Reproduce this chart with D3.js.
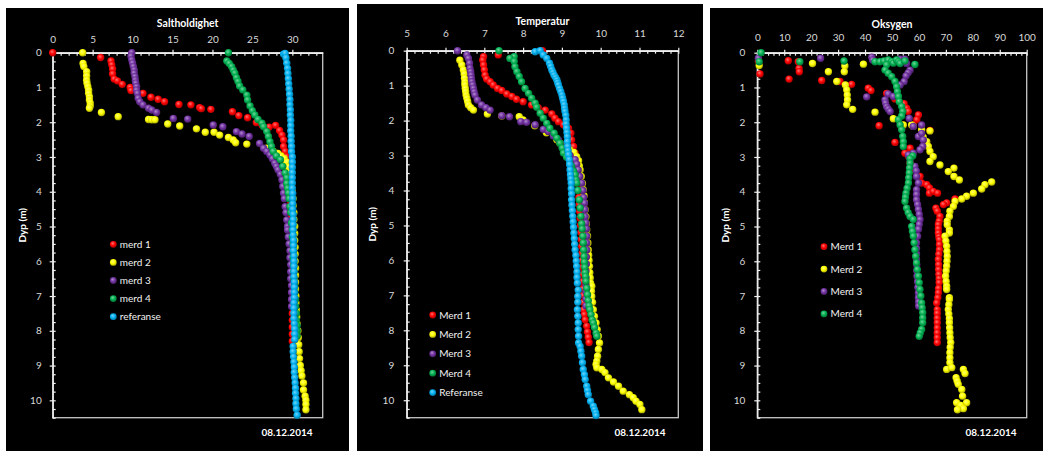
<!DOCTYPE html>
<html>
<head>
<meta charset="utf-8">
<script src="https://cdn.jsdelivr.net/npm/d3@7"></script>
<style>
  body { margin: 0; background: #fff; }
  svg { display: block; }
  text { font-family: Lato, "Open Sans", sans-serif; }
</style>
</head>
<body>
<svg id="chart" width="1043" height="451"></svg>
<script>
// ---- data (value, depth in m) ----
const dateLabel = "08.12.2014";
const depthTicks = [0, 1, 2, 3, 4, 5, 6, 7, 8, 9, 10];
const saltTicks = [0, 5, 10, 15, 20, 25, 30];
const tempTicks = [5, 6, 7, 8, 9, 10, 11, 12];
const oxyTicks = [0, 10, 20, 30, 40, 50, 60, 70, 80, 90, 100];
const saltNames = ["merd 1", "merd 2", "merd 3", "merd 4", "referanse"];
const tempNames = ["Merd 1", "Merd 2", "Merd 3", "Merd 4", "Referanse"];
const oxyNames = ["Merd 1", "Merd 2", "Merd 3", "Merd 4"];

const saltM1 = [[0,0],[6.0,0.14],[7.3,0.24],[7.4,0.35],[7.5,0.47],[7.5,0.61],[7.7,0.76],[8.1,0.81],[8.7,0.91],[9.7,1.0],[9.8,1.09],[11.3,1.17],[12.3,1.28],[13.2,1.34],[14.0,1.41],[15.8,1.49],[17.3,1.5],[18.4,1.58],[18.6,1.61],[19.8,1.63],[22.5,1.7],[23.3,1.81],[24.4,1.87],[25.5,2.01],[26.2,2.08],[27.1,2.14],[27.9,2.09],[28.4,2.24],[28.7,2.37],[28.9,2.51],[28.9,2.7],[29.1,2.84],[29.3,2.99],[29.5,3.15],[29.6,3.3],[29.7,3.5],[29.7,3.7],[29.8,3.9],[29.8,4.1],[29.8,4.3],[29.9,4.5],[29.9,4.7],[29.9,4.9],[29.9,5.1],[29.9,5.3],[29.9,5.5],[30.0,5.7],[30.0,5.9],[30.0,6.1],[30.0,6.3],[30.0,6.5],[30.0,6.7],[30.0,6.9],[30.0,7.1],[30.0,7.3],[30.0,7.5],[30.0,7.7],[30.0,7.9],[30.0,8.1],[30.0,8.3]];
const saltM2 = [[3.75,0],[3.8,0.31],[3.9,0.4],[4.25,0.55],[4.25,0.67],[4.25,0.79],[4.3,0.88],[4.4,0.98],[4.5,1.08],[4.5,1.17],[4.6,1.27],[4.6,1.36],[4.7,1.45],[4.7,1.53],[4.6,1.6],[6.1,1.72],[8.2,1.84],[12.0,1.92],[12.4,1.93],[12.8,1.93],[14.4,2.05],[15.9,2.11],[18.0,2.19],[19.1,2.29],[20.2,2.29],[20.9,2.37],[22.0,2.44],[22.6,2.51],[22.9,2.59],[24.3,2.63],[26.8,2.75],[27.6,2.83],[28.2,2.9],[28.6,2.97],[29.0,3.05],[29.3,3.15],[29.5,3.3],[29.7,3.45],[29.8,3.6],[29.9,3.8],[30.0,4.0],[30.1,4.2],[30.1,4.4],[30.2,4.6],[30.2,4.8],[30.3,5.0],[30.3,5.2],[30.3,5.4],[30.35,5.6],[30.35,5.8],[30.35,6.0],[30.4,6.2],[30.4,6.4],[30.4,6.6],[30.4,6.8],[30.45,7.0],[30.45,7.2],[30.5,7.4],[30.55,7.6],[30.6,7.8],[30.7,8.0],[30.75,8.2],[30.8,8.4],[30.85,8.6],[30.9,8.8],[31.0,9.0],[31.1,9.15],[31.2,9.3],[31.4,9.5],[31.4,9.7],[31.6,9.88],[31.7,10.0],[31.7,10.12],[31.7,10.27]];
const saltM3 = [[9.9,0],[9.8,0.1],[9.9,0.21],[10.0,0.3],[10.1,0.4],[10.2,0.5],[10.2,0.59],[10.3,0.69],[10.35,0.79],[10.4,0.88],[10.5,0.98],[10.5,1.08],[10.6,1.17],[10.7,1.31],[10.9,1.41],[11.3,1.5],[12.0,1.6],[12.4,1.65],[13.0,1.72],[15.1,1.89],[16.9,1.91],[20.1,2.08],[21.3,2.13],[23.0,2.27],[23.7,2.34],[24.6,2.41],[25.9,2.61],[26.4,2.75],[26.8,2.84],[27.2,2.94],[27.5,3.05],[27.8,3.18],[28.0,3.27],[28.2,3.37],[28.5,3.5],[28.7,3.66],[28.8,3.85],[28.9,4.04],[29.0,4.2],[29.1,4.43],[29.2,4.6],[29.3,4.81],[29.4,5.0],[29.4,5.1],[29.5,5.3],[29.6,5.5],[29.7,5.7],[29.7,5.9],[29.8,6.1],[29.8,6.3],[29.8,6.5],[29.9,6.7],[29.9,6.9],[29.9,7.1],[29.9,7.3]];
const saltM4 = [[22.0,0],[21.8,0.24],[22.1,0.31],[22.4,0.4],[22.6,0.5],[22.8,0.59],[23.0,0.72],[23.2,0.83],[23.4,0.96],[23.8,1.07],[24.3,1.22],[24.4,1.36],[24.7,1.53],[25.0,1.67],[25.3,1.79],[25.7,1.92],[26.2,2.03],[26.4,2.13],[26.8,2.27],[27.0,2.41],[27.2,2.56],[27.4,2.7],[27.6,2.84],[28.0,2.97],[28.5,3.08],[28.8,3.27],[29.1,3.46],[29.3,3.6],[29.3,3.76],[29.4,3.9],[29.5,4.04],[29.6,4.2],[29.7,4.43],[29.8,4.6],[29.9,4.9],[30.0,5.1],[30.0,5.3],[30.1,5.5],[30.1,5.7],[30.1,5.9],[30.2,6.1],[30.2,6.3],[30.2,6.5],[30.3,6.7],[30.3,6.9],[30.4,7.1],[30.4,7.3],[30.5,7.5],[30.5,7.7],[30.6,7.85],[30.6,8.0],[30.6,8.15]];
const saltRef = [[28.9,0.04],[29.1,0.02],[29.2,0.15],[29.3,0.3],[29.4,0.45],[29.45,0.6],[29.5,0.75],[29.55,0.9],[29.6,1.05],[29.65,1.2],[29.7,1.35],[29.7,1.5],[29.75,1.65],[29.75,1.8],[29.8,1.95],[29.8,2.1],[29.8,2.25],[29.85,2.4],[29.85,2.55],[29.9,2.7],[29.9,2.85],[30.0,3.0],[30.0,3.15],[30.0,3.3],[30.0,3.45],[30.0,3.6],[30.0,3.75],[30.0,3.9],[30.05,4.05],[30.05,4.2],[30.05,4.35],[30.05,4.5],[30.1,4.65],[30.1,4.8],[30.1,4.95],[30.1,5.1],[30.1,5.25],[30.15,5.4],[30.15,5.55],[30.15,5.7],[30.2,5.85],[30.2,6.0],[30.2,6.15],[30.2,6.3],[30.2,6.45],[30.25,6.6],[30.25,6.75],[30.25,6.9],[30.25,7.05],[30.2,7.2],[30.2,7.35],[30.2,7.5],[30.2,7.65],[30.25,7.8],[30.3,7.95],[30.3,8.1],[30.3,8.25],[30.1,8.45],[30.1,8.6],[30.15,8.75],[30.2,8.9],[30.25,9.05],[30.25,9.2],[30.3,9.35],[30.35,9.5],[30.4,9.65],[30.4,9.8],[30.45,9.95],[30.45,10.1],[30.5,10.25],[30.6,10.43]];

const tempM1 = [[8.5,0],[7.36,0.12],[6.98,0.17],[6.96,0.27],[6.98,0.41],[7.0,0.55],[7.02,0.7],[7.06,0.81],[7.15,0.89],[7.23,0.98],[7.34,1.08],[7.45,1.14],[7.58,1.24],[7.71,1.31],[7.83,1.39],[8.0,1.46],[8.22,1.55],[8.39,1.63],[8.57,1.7],[8.74,1.81],[8.82,1.93],[8.91,2.03],[9.04,2.12],[9.17,2.22],[9.23,2.36],[9.25,2.55],[9.3,2.74],[9.34,2.93],[9.36,3.05],[9.38,3.2],[9.4,3.35],[9.41,3.5],[9.42,3.65],[9.42,3.8],[9.43,4.0],[9.44,4.2],[9.45,4.4],[9.46,4.6],[9.47,4.8],[9.48,5.0],[9.49,5.2],[9.5,5.4],[9.51,5.6],[9.52,5.8],[9.52,6.0],[9.53,6.2],[9.54,6.4],[9.54,6.6],[9.55,6.8],[9.55,7.0],[9.55,7.2],[9.56,7.41],[9.58,7.55],[9.6,7.7],[9.64,7.88],[9.66,8.05],[9.68,8.2],[9.7,8.35]];
const tempM2 = [[6.37,0.27],[6.42,0.41],[6.46,0.55],[6.48,0.67],[6.49,0.79],[6.5,0.9],[6.5,0.98],[6.51,1.08],[6.52,1.17],[6.53,1.27],[6.55,1.36],[6.57,1.45],[6.59,1.55],[6.65,1.63],[6.72,1.7],[7.08,1.81],[7.45,1.87],[7.9,1.89],[8.0,1.98],[8.3,2.15],[8.6,2.35],[8.87,2.55],[8.95,2.65],[9.08,2.74],[9.2,2.83],[9.31,2.91],[9.38,3.03],[9.43,3.15],[9.45,3.3],[9.47,3.41],[9.5,3.6],[9.53,3.8],[9.55,3.98],[9.57,4.15],[9.58,4.35],[9.6,4.55],[9.62,4.75],[9.63,4.95],[9.64,5.12],[9.66,5.3],[9.67,5.5],[9.68,5.7],[9.69,5.85],[9.7,6.0],[9.71,6.17],[9.72,6.35],[9.73,6.5],[9.74,6.65],[9.77,6.74],[9.76,6.88],[9.77,7.03],[9.79,7.2],[9.81,7.41],[9.84,7.6],[9.88,7.79],[9.91,7.98],[9.94,8.17],[9.97,8.36],[9.94,8.55],[9.92,8.74],[9.9,8.88],[9.88,8.98],[9.9,9.07],[10.03,9.12],[10.11,9.21],[10.2,9.36],[10.33,9.48],[10.46,9.6],[10.58,9.74],[10.74,9.84],[10.84,9.93],[10.91,10.03],[11.01,10.12],[11.06,10.27]];
const tempM3 = [[6.31,0],[6.55,0.12],[6.59,0.22],[6.62,0.36],[6.63,0.5],[6.65,0.6],[6.66,0.7],[6.67,0.8],[6.68,0.89],[6.7,0.98],[6.72,1.08],[6.74,1.18],[6.76,1.27],[6.82,1.41],[6.93,1.55],[7.04,1.63],[7.15,1.7],[7.45,1.86],[7.65,1.89],[7.94,2.03],[8.09,2.05],[8.31,2.12],[8.52,2.25],[8.65,2.31],[8.78,2.44],[8.91,2.55],[9.0,2.74],[9.08,2.93],[9.21,3.0],[9.34,3.12],[9.38,3.25],[9.42,3.41],[9.46,3.6],[9.51,3.79],[9.54,4.0],[9.56,4.2],[9.58,4.36],[9.59,4.55],[9.6,4.75],[9.62,4.93],[9.63,5.1],[9.64,5.31],[9.64,5.5],[9.64,5.7],[9.63,5.9],[9.63,6.1],[9.62,6.3],[9.62,6.5],[9.62,6.7],[9.62,6.9],[9.62,7.1],[9.62,7.3]];
const tempM4 = [[7.38,0],[7.77,0.17],[7.66,0.22],[7.77,0.31],[7.79,0.46],[7.84,0.6],[7.9,0.74],[7.96,0.89],[8.05,1.08],[8.14,1.22],[8.22,1.36],[8.31,1.5],[8.35,1.62],[8.44,1.79],[8.52,1.93],[8.61,2.08],[8.69,2.22],[8.8,2.36],[8.87,2.5],[8.95,2.65],[9.01,2.79],[9.04,2.93],[9.12,3.05],[9.2,3.2],[9.25,3.31],[9.3,3.45],[9.34,3.55],[9.36,3.7],[9.38,3.79],[9.41,4.0],[9.45,4.27],[9.47,4.5],[9.49,4.74],[9.51,4.95],[9.52,5.1],[9.54,5.31],[9.55,5.5],[9.56,5.7],[9.57,5.89],[9.58,6.05],[9.59,6.2],[9.6,6.35],[9.61,6.46],[9.62,6.6],[9.64,6.8],[9.66,6.98],[9.68,7.15],[9.7,7.3],[9.72,7.41],[9.75,7.55],[9.78,7.7],[9.81,7.79],[9.84,7.92],[9.88,8.08],[9.9,8.17]];
const tempRef = [[8.31,0.03],[8.44,0],[8.52,0.12],[8.61,0.22],[8.68,0.36],[8.71,0.45],[8.74,0.55],[8.77,0.62],[8.8,0.7],[8.84,0.77],[8.87,0.84],[8.89,0.91],[8.91,0.98],[8.94,1.08],[8.97,1.17],[9.0,1.27],[9.02,1.36],[9.04,1.45],[9.06,1.55],[9.07,1.65],[9.08,1.74],[9.1,1.85],[9.11,1.98],[9.11,2.1],[9.12,2.22],[9.13,2.34],[9.14,2.46],[9.14,2.6],[9.15,2.74],[9.16,2.86],[9.17,2.98],[9.19,3.12],[9.2,3.26],[9.21,3.41],[9.22,3.55],[9.23,3.67],[9.24,3.79],[9.24,3.95],[9.25,4.1],[9.25,4.27],[9.26,4.42],[9.27,4.58],[9.28,4.74],[9.29,4.9],[9.3,5.06],[9.31,5.22],[9.32,5.38],[9.33,5.54],[9.34,5.7],[9.36,5.86],[9.37,6.02],[9.38,6.17],[9.39,6.33],[9.39,6.49],[9.4,6.65],[9.42,6.85],[9.41,7.03],[9.41,7.2],[9.4,7.41],[9.41,7.6],[9.42,7.79],[9.42,7.98],[9.43,8.17],[9.43,8.36],[9.47,8.46],[9.49,8.6],[9.51,8.74],[9.53,8.93],[9.55,9.12],[9.58,9.27],[9.6,9.41],[9.64,9.6],[9.66,9.72],[9.68,9.84],[9.74,10.03],[9.81,10.17],[9.84,10.27],[9.87,10.36],[9.88,10.44]];

const oxyM1 = [[0.4,0.24],[1.0,0.61],[11.5,0.23],[11.8,0.76],[15.2,0.26],[15.5,0.45],[15.6,0.55],[23.9,0.8],[30.7,0.83],[35.0,0.91],[41.2,1.02],[42.2,1.09],[48.0,1.17],[51.1,1.33],[54.5,1.47],[55.4,1.6],[56.0,1.69],[59.8,1.79],[59.2,1.93],[57.9,2.08],[45.2,2.1],[53.6,2.17],[64.1,2.24],[51.1,2.58],[56.7,2.75],[54.8,2.89],[56.1,2.98],[56.7,3.18],[57.9,3.37],[60.4,3.56],[61.0,3.75],[62.9,3.8],[63.9,3.89],[63.9,4.04],[65.3,3.99],[66.9,4.04],[73.4,4.21],[70.3,4.32],[69.1,4.37],[66.3,4.47],[66.8,4.56],[67.8,4.71],[67.5,4.85],[67.2,4.95],[67.2,5.07],[67.2,5.19],[67.4,5.3],[67.6,5.38],[67.6,5.52],[67.6,5.67],[67.4,5.8],[67.2,5.95],[67.3,6.1],[67.3,6.24],[67.4,6.38],[67.5,6.5],[67.5,6.62],[67.3,6.78],[67.2,6.91],[67.0,7.05],[66.6,7.2],[66.8,7.39],[66.8,7.5],[66.8,7.64],[66.8,7.77],[66.8,7.92],[66.8,8.06],[66.8,8.2],[66.8,8.34]];
const oxyM2 = [[0.7,0.37],[20.5,0.31],[26.4,0.55],[32.5,0.38],[32.3,0.55],[39.4,0.33],[29.5,0.83],[32.7,0.93],[33.2,1.07],[33.4,1.22],[33.5,1.36],[33.2,1.5],[35.4,1.63],[43.7,1.71],[50.5,1.9],[54.2,2.08],[57.3,2.08],[57.9,2.12],[61.0,2.22],[64.1,2.25],[61.6,2.43],[62.9,2.56],[63.5,2.7],[64.1,2.84],[65.3,2.99],[64.1,3.13],[67.8,3.23],[73.0,3.32],[70.9,3.42],[73.0,3.56],[75.0,3.66],[87.0,3.72],[84.5,3.8],[83.3,3.92],[80.2,4.04],[77.7,4.13],[75.9,4.21],[73.4,4.28],[72.8,4.42],[71.5,4.56],[71.3,4.71],[70.5,4.85],[70.5,4.95],[71.3,5.1],[71.3,5.19],[69.7,5.28],[70.0,5.42],[70.3,5.57],[70.4,5.72],[70.5,5.86],[70.4,6.0],[70.3,6.14],[70.1,6.28],[69.9,6.43],[70.1,6.58],[70.3,6.72],[70.3,6.81],[71.3,7.05],[71.3,7.1],[71.1,7.25],[70.9,7.39],[71.1,7.52],[71.3,7.65],[71.3,7.77],[71.4,7.92],[71.5,8.06],[71.6,8.2],[71.8,8.34],[71.6,8.48],[71.5,8.63],[71.5,8.78],[71.5,8.92],[70.3,9.11],[72.2,9.06],[76.5,9.11],[77.1,9.23],[73.8,9.35],[74.2,9.45],[74.6,9.54],[75.9,9.69],[76.2,9.88],[77.7,10.07],[74.0,10.07],[75.5,10.15],[76.5,10.24],[74.3,10.27]];
const oxyM3 = [[0.4,0.16],[23.5,0.16],[42.5,0.13],[42.8,0.21],[53.0,0.19],[54.8,0.19],[55.4,0.31],[56.7,0.5],[56.0,0.58],[55.2,0.67],[54.5,0.83],[53.0,0.93],[48.6,1.19],[50.5,1.26],[40.6,1.27],[47.4,1.36],[47.6,1.45],[48.0,1.55],[48.6,1.62],[49.3,1.69],[56.4,1.89],[57.9,2.12],[61.0,2.08],[59.8,2.41],[61.0,2.32],[61.6,2.51],[61.4,2.7],[60.4,2.79],[57.9,2.89],[56.1,2.94],[56.7,3.08],[58.5,3.27],[59.0,3.4],[59.1,3.56],[59.8,3.75],[59.1,3.94],[59.1,4.08],[59.1,4.23],[59.5,4.37],[59.8,4.51],[60.1,4.65],[60.4,4.8],[60.1,4.94],[59.8,5.08],[59.5,5.28],[59.1,5.47],[59.1,5.63],[59.1,5.79],[59.1,5.95],[59.2,6.11],[59.2,6.27],[59.3,6.43],[59.5,6.59],[59.6,6.75],[59.8,6.91],[59.8,7.05],[59.9,7.17],[59.9,7.29]];
const oxyM4 = [[1.4,0],[0.7,0.26],[15.8,0.26],[32.2,0.24],[43.7,0.26],[45.5,0.26],[47.0,0.24],[48.6,0.21],[49.9,0.26],[50.5,0.3],[51.7,0.21],[52.4,0.26],[53.0,0.31],[54.8,0.24],[58.5,0.34],[48.0,0.35],[47.4,0.5],[48.6,0.59],[49.9,0.69],[51.1,0.83],[51.7,0.98],[52.0,1.12],[52.4,1.26],[52.7,1.41],[53.6,1.55],[54.0,1.69],[53.6,1.82],[52.4,1.93],[53.0,2.08],[53.6,2.22],[54.0,2.41],[54.2,2.56],[54.2,2.7],[57.7,2.97],[56.7,3.05],[56.7,3.18],[56.5,3.32],[56.4,3.46],[56.2,3.6],[56.1,3.75],[55.6,3.9],[55.2,4.04],[55.0,4.16],[54.8,4.28],[55.4,4.47],[56.0,4.6],[56.7,4.71],[57.9,4.8],[57.3,5.0],[57.6,5.14],[57.9,5.28],[58.2,5.47],[58.5,5.67],[58.8,5.86],[59.1,6.05],[59.4,6.24],[59.8,6.43],[60.1,6.62],[60.4,6.81],[60.7,7.0],[61.0,7.2],[61.2,7.34],[61.4,7.48],[61.4,7.63],[61.4,7.77],[61.0,7.96],[60.5,8.06],[60.1,8.16]];

// ---- styling ----
const colors = ["#ff0000", "#ffff00", "#7030a0", "#00b050", "#00b0f0"];

const svg = d3.select("#chart");
const defs = svg.append("defs");
colors.forEach((c, i) => {
  const g = defs.append("radialGradient").attr("id", "ball" + i)
    .attr("cx", "45%").attr("cy", "40%").attr("r", "60%").attr("fx", "40%").attr("fy", "35%");
  g.append("stop").attr("offset", "0%").attr("stop-color", d3.interpolateRgb(c, "#fff")(0.45));
  g.append("stop").attr("offset", "55%").attr("stop-color", c);
  g.append("stop").attr("offset", "100%").attr("stop-color", d3.interpolateRgb(c, "#000")(0.35));
});

const panels = [
  { bg: [6, 8, 349, 451], l: 52.7, r: 322.7, t: 52.7, b: 417.7, xDomain: [0, 33.8], xTicks: saltTicks, minor: 1,
    title: "Saltholdighet", titleY: 27, topPad: 10, leftPad: 11, dateX: 287, ylabX: 22,
    series: [saltM1, saltM2, saltM3, saltM4, saltRef], names: saltNames, legX: 113.3, legY: 244.3, legDy: 18.1 },
  { bg: [357, 4, 703, 451], l: 406.7, r: 678.3, t: 50.7, b: 417.7, xDomain: [5, 12], xTicks: tempTicks, minor: 0.2,
    title: "Temperatur", titleY: 24.5, topPad: 14, leftPad: 12.5, dateX: 640, ylabX: 372.7,
    series: [tempM1, tempM2, tempM3, tempM4, tempRef], names: tempNames, legX: 432.7, legY: 315, legDy: 19.4 },
  { bg: [710, 8, 1043, 451], l: 757.3, r: 1026.7, t: 52.7, b: 417.7, xDomain: [0, 100], xTicks: oxyTicks, minor: 2,
    title: "Oksygen", titleY: 27.5, topPad: 11.5, leftPad: 12, dateX: 991, ylabX: 725,
    series: [oxyM1, oxyM2, oxyM3, oxyM4], names: oxyNames, legX: 824, legY: 246.7, legDy: 22.4 }
];

panels.forEach(p => {
  const g = svg.append("g");
  g.append("rect").attr("x", p.bg[0]).attr("y", p.bg[1])
    .attr("width", p.bg[2] - p.bg[0]).attr("height", p.bg[3] - p.bg[1]).attr("fill", "#000");

  const x = d3.scaleLinear().domain(p.xDomain).range([p.l, p.r]);
  const y = d3.scaleLinear().domain([0, 10.5]).range([p.t, p.b]);

  // plot frame (right / bottom)
  g.append("rect").attr("x", p.l).attr("y", p.t).attr("width", p.r - p.l).attr("height", p.b - p.t)
    .attr("fill", "none").attr("stroke", "#c8c8c8").attr("stroke-width", 1.3);

  // minor ticks (inside)
  const xMinor = d3.range(p.xDomain[0], p.xDomain[1] + 1e-9, p.minor);
  const yMinor = d3.range(0, 10.5 + 1e-9, 0.25);
  g.append("g").attr("transform", `translate(0,${p.t})`)
    .call(d3.axisTop(x).tickValues(xMinor).tickSize(-3).tickFormat(""))
    .call(a => a.select(".domain").remove());
  g.append("g").attr("transform", `translate(${p.l},0)`)
    .call(d3.axisLeft(y).tickValues(yMinor).tickSize(-3).tickFormat(""))
    .call(a => a.select(".domain").remove());

  // major ticks + labels
  g.append("g").attr("transform", `translate(0,${p.t})`)
    .call(d3.axisTop(x).tickValues(p.xTicks).tickFormat(d3.format("d"))
      .tickSizeInner(3).tickSizeOuter(0).tickPadding(p.topPad - 3));
  g.append("g").attr("transform", `translate(${p.l},0)`)
    .call(d3.axisLeft(y).tickValues(depthTicks).tickFormat(d3.format("d"))
      .tickSizeInner(3).tickSizeOuter(0).tickPadding(p.leftPad - 3));

  g.selectAll(".tick line").attr("stroke", "#f0f0f0").attr("stroke-width", 1.2);
  g.selectAll(".domain").attr("stroke", "#f0f0f0").attr("stroke-width", 1.4);
  g.selectAll(".tick text").attr("fill", "#d9d9d9").style("font-size", "10px").style("font-family", "Lato, sans-serif");

  // titles
  g.append("text").attr("x", (p.l + p.r) / 2).attr("y", p.titleY).attr("text-anchor", "middle")
    .attr("fill", "#fff").style("font-size", "10.5px").style("font-weight", "bold").text(p.title);
  g.append("text").attr("transform", `translate(${p.ylabX},${(p.t + p.b) / 2 - 10}) rotate(-90)`)
    .attr("text-anchor", "middle").attr("dy", "0.35em")
    .attr("fill", "#fff").style("font-size", "10px").style("font-weight", "bold").text("Dyp (m)");
  g.append("text").attr("x", p.dateX).attr("y", 435.5).attr("text-anchor", "middle")
    .attr("fill", "#fff").style("font-size", "10px").style("font-weight", "bold").text(dateLabel);

  // data
  p.series.forEach((s, i) => {
    g.append("g").selectAll("circle").data(s).join("circle")
      .attr("cx", d => x(d[0])).attr("cy", d => y(d[1])).attr("r", 3.7)
      .attr("fill", `url(#ball${i})`);
  });

  // legend
  p.names.forEach((n, i) => {
    const ly = p.legY + i * p.legDy;
    g.append("circle").attr("cx", p.legX).attr("cy", ly).attr("r", 3.4).attr("fill", `url(#ball${i})`);
    g.append("text").attr("x", p.legX + 6.5).attr("y", ly).attr("dy", "0.35em")
      .attr("fill", "#f2f2f2").style("font-size", "10px").text(n);
  });
});
</script>
</body>
</html>
